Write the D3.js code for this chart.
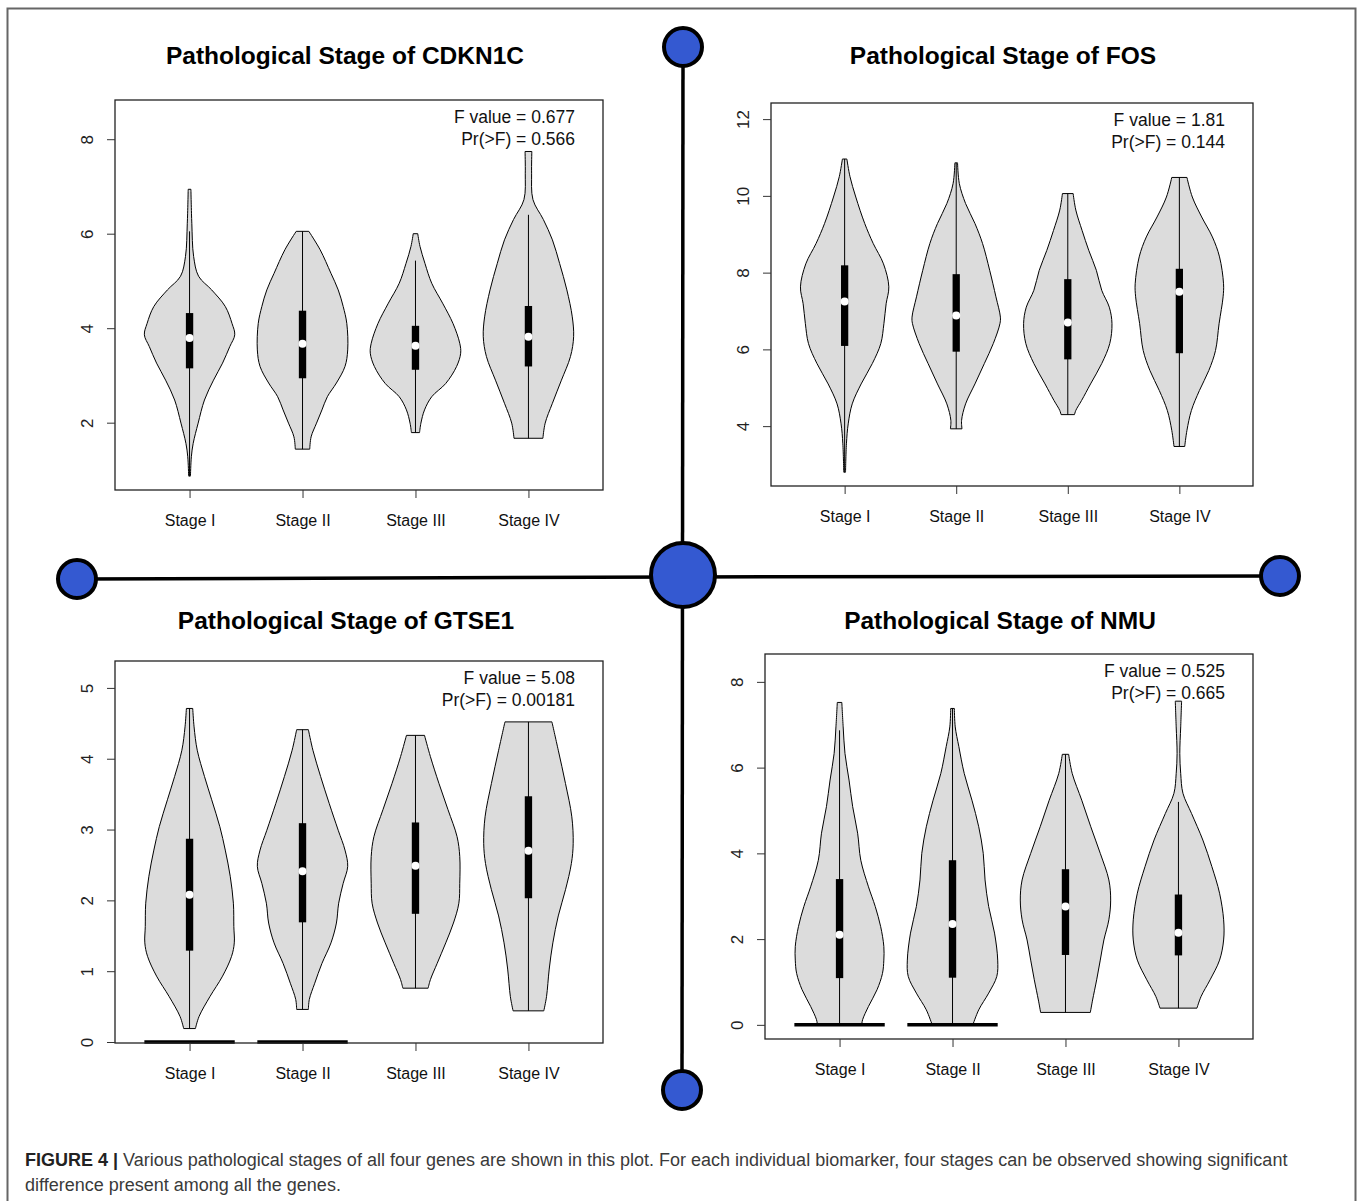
<!DOCTYPE html>
<html>
<head>
<meta charset="utf-8">
<script src="https://d3js.org/d3.v7.min.js"></script>
<style>
  body { margin: 0; background: #fff; }
  svg { display: block; font-family: "Liberation Sans", Arial, Helvetica, sans-serif; }
</style>
</head>
<body>
<svg id="canvas" width="1358" height="1201"></svg>
<script>
// categories and annotation values
let stages = ['Stage I', 'Stage II', 'Stage III', 'Stage IV']
let genes = ['CDKN1C', 'FOS', 'GTSE1', 'NMU']
let fValues = ['0.677', '1.81', '5.08', '0.525']
let pValues = ['0.566', '0.144', '0.00181', '0.665']
let yTickValues = [[2, 4, 6, 8], [4, 6, 8, 10, 12], [0, 1, 2, 3, 4, 5], [0, 2, 4, 6, 8]]

// box stats per stage: [lower whisker, Q1, median, Q3, upper whisker]
let cdkn1cBox = [[0.87, 3.15, 3.79, 4.32, 6.05], [1.44, 2.94, 3.67, 4.37, 6.05], [1.79, 3.12, 3.63, 4.05, 5.43], [1.67, 3.19, 3.82, 4.47, 6.4]]
let fosBox = [[2.8, 6.09, 7.25, 8.19, 10.96], [3.93, 5.94, 6.88, 7.96, 10.86], [4.3, 5.74, 6.7, 7.83, 10.06], [3.47, 5.9, 7.5, 8.1, 10.48]]
let gtse1Box = [[0.19, 1.29, 2.08, 2.87, 4.71], [0.46, 1.69, 2.41, 3.09, 4.41], [0.76, 1.81, 2.49, 3.1, 4.33], [0.44, 2.03, 2.7, 3.47, 4.52]]
let nmuBox = [[0, 1.09, 2.1, 3.4, 6.87], [0, 1.1, 2.35, 3.84, 7.38], [0.29, 1.63, 2.76, 3.63, 6.31], [0.39, 1.62, 2.15, 3.04, 5.2]]

// violin outlines: [value, relative half width]
let cdkn1cDensity = [
  [[6.94, 0.03], [6.22, 0.05], [5.52, 0.09], [5.1, 0.2], [4.81, 0.49], [4.46, 0.79], [4.1, 0.94], [3.86, 1.0], [3.61, 0.89], [3.26, 0.73], [2.9, 0.53], [2.48, 0.33], [1.99, 0.19], [1.56, 0.08], [1.28, 0.04], [0.87, 0.02]],
  [[6.05, 0.14], [5.66, 0.39], [5.16, 0.63], [4.81, 0.79], [4.46, 0.9], [4.1, 0.98], [3.54, 1.0], [3.19, 0.94], [2.84, 0.75], [2.55, 0.55], [2.27, 0.43], [1.99, 0.31], [1.7, 0.19], [1.44, 0.16]],
  [[6.0, 0.05], [5.73, 0.1], [5.37, 0.21], [4.95, 0.36], [4.53, 0.6], [4.1, 0.83], [3.68, 0.98], [3.47, 1.0], [3.19, 0.91], [2.83, 0.67], [2.55, 0.36], [2.27, 0.2], [1.99, 0.12], [1.79, 0.09]],
  [[7.74, 0.075], [7.28, 0.07], [6.72, 0.1], [6.3, 0.33], [5.87, 0.53], [5.37, 0.69], [4.81, 0.85], [4.24, 0.97], [3.82, 1.0], [3.4, 0.93], [2.9, 0.73], [2.41, 0.53], [1.99, 0.37], [1.67, 0.32]]
]
let fosDensity = [
  [[10.96, 0.05], [10.5, 0.12], [9.97, 0.25], [9.28, 0.45], [8.76, 0.64], [8.23, 0.87], [7.63, 0.99], [7.19, 0.93], [6.67, 0.88], [6.15, 0.81], [5.63, 0.62], [5.1, 0.37], [4.58, 0.17], [4.06, 0.08], [3.54, 0.04], [2.8, 0.02]],
  [[10.86, 0.03], [10.32, 0.07], [9.8, 0.21], [9.28, 0.42], [8.76, 0.59], [8.06, 0.75], [7.37, 0.89], [6.84, 0.99], [6.67, 0.98], [6.15, 0.83], [5.63, 0.63], [5.1, 0.42], [4.58, 0.21], [4.15, 0.12], [3.93, 0.13]],
  [[10.06, 0.12], [9.63, 0.18], [9.1, 0.32], [8.58, 0.47], [8.06, 0.64], [7.54, 0.76], [7.1, 0.93], [6.67, 0.99], [6.15, 0.94], [5.63, 0.76], [5.1, 0.51], [4.67, 0.31], [4.41, 0.18], [4.3, 0.15]],
  [[10.48, 0.17], [9.97, 0.29], [9.45, 0.5], [8.93, 0.74], [8.41, 0.9], [7.71, 0.99], [7.37, 0.98], [6.67, 0.89], [5.97, 0.81], [5.45, 0.66], [4.93, 0.45], [4.41, 0.27], [3.89, 0.17], [3.47, 0.12]]
]
let gtse1Density = [
  [[4.71, 0.07], [4.45, 0.1], [4.12, 0.17], [3.75, 0.33], [3.42, 0.49], [3.04, 0.67], [2.71, 0.79], [2.34, 0.9], [1.96, 0.97], [1.63, 0.98], [1.4, 0.99], [1.21, 0.93], [0.93, 0.73], [0.64, 0.45], [0.36, 0.21], [0.19, 0.13]],
  [[4.41, 0.13], [4.12, 0.23], [3.75, 0.4], [3.37, 0.59], [2.99, 0.79], [2.71, 0.94], [2.48, 1.0], [2.24, 0.9], [1.96, 0.8], [1.68, 0.75], [1.4, 0.63], [1.11, 0.43], [0.83, 0.27], [0.6, 0.15], [0.46, 0.13]],
  [[4.33, 0.2], [4.03, 0.33], [3.65, 0.52], [3.28, 0.72], [2.9, 0.92], [2.62, 0.98], [2.24, 0.98], [1.96, 0.96], [1.68, 0.84], [1.4, 0.67], [1.11, 0.48], [0.88, 0.33], [0.76, 0.28]],
  [[4.52, 0.52], [4.12, 0.66], [3.65, 0.82], [3.18, 0.96], [2.8, 0.99], [2.52, 0.95], [2.15, 0.82], [1.78, 0.66], [1.4, 0.54], [1.03, 0.46], [0.64, 0.4], [0.44, 0.34]]
]
let nmuDensity = [
  [[7.52, 0.05], [6.95, 0.08], [6.33, 0.12], [5.71, 0.21], [5.09, 0.29], [4.47, 0.4], [3.84, 0.47], [3.22, 0.64], [2.76, 0.79], [2.29, 0.91], [1.83, 0.98], [1.51, 0.98], [1.2, 0.95], [0.82, 0.83], [0.43, 0.64], [0.12, 0.51], [0, 0.49]],
  [[7.38, 0.04], [6.95, 0.06], [6.49, 0.14], [5.86, 0.26], [5.24, 0.43], [4.62, 0.58], [4.0, 0.68], [3.38, 0.72], [2.76, 0.8], [2.14, 0.93], [1.51, 1.0], [1.13, 0.98], [0.74, 0.8], [0.35, 0.58], [0, 0.45]],
  [[6.31, 0.07], [5.86, 0.15], [5.24, 0.36], [4.62, 0.56], [4.0, 0.77], [3.38, 0.96], [2.91, 1.0], [2.45, 0.96], [1.98, 0.85], [1.51, 0.77], [1.05, 0.69], [0.58, 0.6], [0.29, 0.55]],
  [[7.55, 0.07], [6.95, 0.05], [6.33, 0.03], [5.86, 0.05], [5.4, 0.1], [4.93, 0.29], [4.31, 0.54], [3.69, 0.74], [3.07, 0.91], [2.45, 1.0], [1.98, 1.0], [1.51, 0.91], [1.05, 0.7], [0.66, 0.5], [0.39, 0.41]]
]
// stages whose zero values are drawn as a flat bar at 0
let gtse1Zero = [true, true, false, false]
let nmuZero = [true, true, false, false]

let boxes = [cdkn1cBox, fosBox, gtse1Box, nmuBox]
let densities = [cdkn1cDensity, fosDensity, gtse1Density, nmuDensity]
let zeros = [null, null, gtse1Zero, nmuZero]

// panel frames (pixels) and the value range each frame covers
let panels = [
  {left: 115, right: 603, top: 100, bottom: 490, yDomain: [0.575, 8.83], titleX: 345, titleY: 64},
  {left: 771, right: 1253, top: 103, bottom: 486, yDomain: [2.44, 12.42], titleX: 1003, titleY: 64},
  {left: 115, right: 603, top: 661, bottom: 1043, yDomain: [-0.014, 5.38], titleX: 346, titleY: 629},
  {left: 765, right: 1253, top: 654, bottom: 1039, yDomain: [-0.33, 8.65], titleX: 1000, titleY: 629}
]

let canvas = d3.select('#canvas')

// outer figure frame
canvas.append('rect')
      .attr('x', 7.5).attr('y', 8.5)
      .attr('width', 1348).attr('height', 1260)
      .attr('fill', 'none')
      .attr('stroke', '#666')
      .attr('stroke-width', 2)

let drawPanel = (i) => {
    let p = panels[i]
    let x = d3.scaleLinear().domain([0.34, 4.66]).range([p.left, p.right])
    let y = d3.scaleLinear().domain(p.yDomain).range([p.bottom, p.top])
    let halfW = (x(2) - x(1)) * 0.4
    let w = d3.scaleLinear().domain([0, 1]).range([0, halfW])
    let g = canvas.append('g')

    g.append('text')
     .attr('x', p.titleX).attr('y', p.titleY)
     .attr('text-anchor', 'middle')
     .attr('font-size', 24.5).attr('font-weight', 'bold')
     .text('Pathological Stage of ' + genes[i])

    // violins
    stages.forEach((s, k) => {
        let cx = x(k + 1)
        let area = d3.area()
                     .y(d => y(d[0]))
                     .x0(d => cx - w(d[1]))
                     .x1(d => cx + w(d[1]))
                     .curve(d3.curveCatmullRom)
        g.append('path')
         .attr('d', area(densities[i][k]))
         .attr('fill', '#dcdcdc')
         .attr('stroke', '#000')
         .attr('stroke-width', 1)

        if (zeros[i] && zeros[i][k]) {
            g.append('line')
             .attr('x1', cx - w(1)).attr('x2', cx + w(1))
             .attr('y1', y(0)).attr('y2', y(0))
             .attr('stroke', '#000').attr('stroke-width', 3.5)
        }

        let b = boxes[i][k]
        g.append('line')
         .attr('x1', cx).attr('x2', cx)
         .attr('y1', y(b[0])).attr('y2', y(b[4]))
         .attr('stroke', '#000').attr('stroke-width', 1)
        let bw = (x(2) - x(1)) * 0.065
        g.append('rect')
         .attr('x', cx - bw / 2).attr('width', bw)
         .attr('y', y(b[3])).attr('height', y(b[1]) - y(b[3]))
         .attr('fill', '#000')
        g.append('circle')
         .attr('cx', cx).attr('cy', y(b[2])).attr('r', 4)
         .attr('fill', '#fff')
    })

    // frame
    g.append('rect')
     .attr('x', p.left).attr('y', p.top)
     .attr('width', p.right - p.left).attr('height', p.bottom - p.top)
     .attr('fill', 'none').attr('stroke', '#222').attr('stroke-width', 1.3)

    let yAxis = g.append('g')
                 .attr('transform', 'translate(' + p.left + ',0)')
                 .call(d3.axisLeft(y).tickValues(yTickValues[i]).tickSize(8).tickFormat(d3.format('d')))
    yAxis.select('.domain').remove()
    yAxis.selectAll('.tick line').attr('stroke', '#333')
    yAxis.selectAll('text')
         .attr('transform', 'rotate(-90)')
         .attr('x', 0).attr('y', -22).attr('dy', 0)
         .attr('text-anchor', 'middle')
         .attr('font-size', 17).attr('fill', '#222')
         .attr('font-family', '"Liberation Sans", Arial, sans-serif')

    let xAxis = g.append('g')
                 .attr('transform', 'translate(0,' + p.bottom + ')')
                 .call(d3.axisBottom(x).tickValues([1, 2, 3, 4]).tickSize(8).tickPadding(17)
                         .tickFormat(d => stages[d - 1]))
    xAxis.select('.domain').remove()
    xAxis.selectAll('.tick line').attr('stroke', '#333')
    xAxis.selectAll('text')
         .attr('font-size', 16).attr('fill', '#111')
         .attr('font-family', '"Liberation Sans", Arial, sans-serif')

    let fx = p.right - 28
    g.append('text')
     .attr('x', fx).attr('y', p.top + 23)
     .attr('text-anchor', 'end').attr('font-size', 17.5).attr('fill', '#111')
     .text('F value = ' + fValues[i])
    g.append('text')
     .attr('x', fx).attr('y', p.top + 45)
     .attr('text-anchor', 'end').attr('font-size', 17.5).attr('fill', '#111')
     .text('Pr(>F) = ' + pValues[i])
}

// connector cross between the four panels
let cross = canvas.append('g')
cross.append('line').attr('x1', 683).attr('x2', 682).attr('y1', 47).attr('y2', 1090)
     .attr('stroke', '#000').attr('stroke-width', 3.5)
cross.append('line').attr('x1', 77).attr('x2', 683).attr('y1', 579).attr('y2', 577)
     .attr('stroke', '#000').attr('stroke-width', 3.5)
cross.append('line').attr('x1', 683).attr('x2', 1280).attr('y1', 577).attr('y2', 576)
     .attr('stroke', '#000').attr('stroke-width', 3.5)
let nodes = [[683, 47, 19], [77, 579, 19], [1280, 576, 19], [682, 1090, 19], [683, 575, 32]]
cross.selectAll('circle.node')
     .data(nodes)
     .enter()
     .append('circle')
     .attr('class', 'node')
     .attr('cx', d => d[0]).attr('cy', d => d[1]).attr('r', d => d[2])
     .attr('fill', '#3459d1')
     .attr('stroke', '#000').attr('stroke-width', 4)

panels.forEach((p, i) => drawPanel(i))

// caption
let cap = canvas.append('g').attr('font-size', 18).attr('fill', '#3a3a3a')
let line1 = cap.append('text').attr('x', 25).attr('y', 1166)
line1.append('tspan').attr('font-weight', 'bold').attr('fill', '#222').text('FIGURE 4 | ')
line1.append('tspan').text('Various pathological stages of all four genes are shown in this plot. For each individual biomarker, four stages can be observed showing significant')
cap.append('text').attr('x', 25).attr('y', 1191)
   .text('difference present among all the genes.')
</script>
</body>
</html>
